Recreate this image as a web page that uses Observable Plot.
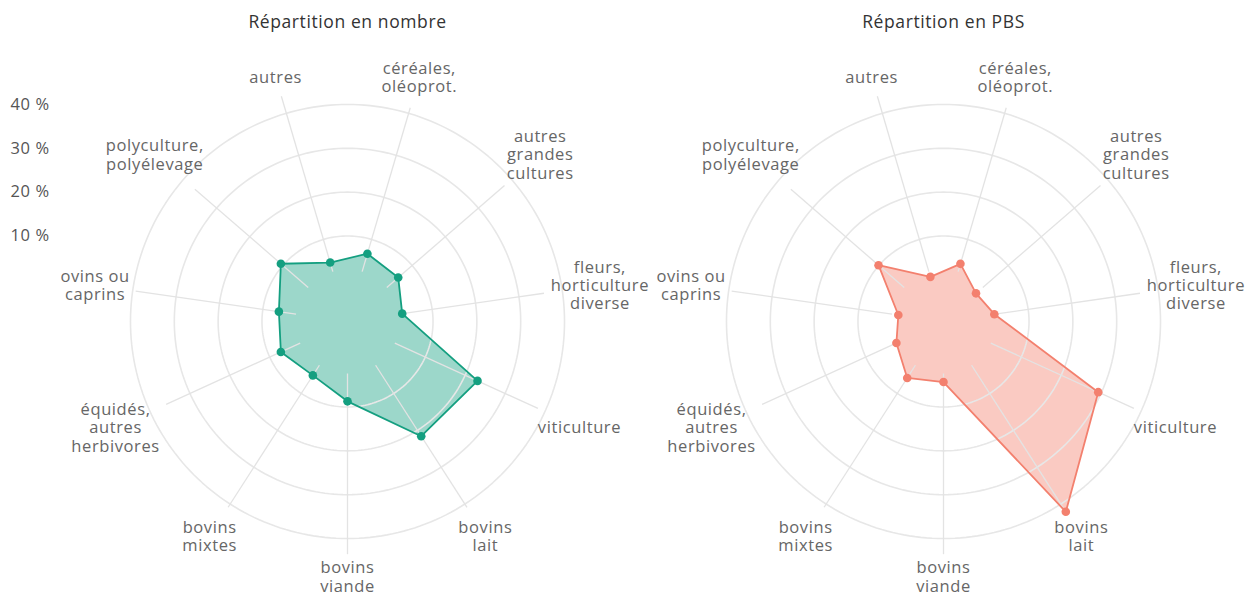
<!DOCTYPE html>
<html>
<head>
<meta charset="utf-8">
<script src="https://cdn.jsdelivr.net/npm/d3@7"></script>
<script src="https://cdn.jsdelivr.net/npm/@observablehq/plot@0.6"></script>
<style>
  html, body { margin: 0; padding: 0; background: #fff; }
</style>
</head>
<body>
<div id="chart"></div>
<script>
// ---- data ----
const categories = [
  "céréales,\noléoprot.",
  "autres\ngrandes\ncultures",
  "fleurs,\nhorticulture\ndiverse",
  "viticulture",
  "bovins\nlait",
  "bovins\nviande",
  "bovins\nmixtes",
  "équidés,\nautres\nherbivores",
  "ovins ou\ncaprins",
  "polyculture,\npolyélevage",
  "autres"
];
const nombre = [6.6, 5.8, 3.1, 23.1, 21.6, 8.7, 5.1, 7.2, 6.3, 10.6, 4.5];
const pbs    = [4.2, 0.3, 2.2, 29.3, 42.1, 4.3, 5.8, 2.3, 0.9, 10.1, 1.1];
const panelTitles = ["Répartition en nombre", "Répartition en PBS"];
const ringTicks = [10, 20, 30, 40];
const ringLabels = ["10 %", "20 %", "30 %", "40 %"];

// ---- layout ----
const W = 1256, H = 598;
const PX = 4.383;              // pixels per percentage point
const OFF = 41.7 / PX;         // inner offset of the radial axis
const CXpx = [347, 943], CYpx = 321;
const centers = CXpx.map(c => (c - CXpx[0]) / PX);
const series = [nombre, pbs];
const strokes = ["#149f80", "#f3806e"];
const FONT = "'Open Sans', sans-serif";
const FS = 16.5, LS = 0.6, LH = 18.3;

const n = categories.length;
const ang = i => (i + 0.5) * 2 * Math.PI / n;
const rad = v => OFF + v;

// polygon points
const pts = series.flatMap((vals, p) => vals.map((v, i) => ({
  panel: p, v,
  x: centers[p] + rad(v) * Math.sin(ang(i)),
  y: rad(v) * Math.cos(ang(i))
})));

// rings
const rings = [];
centers.forEach((cx, p) => ringTicks.forEach(t => {
  for (let k = 0; k < 240; k++) {
    const a = k / 240 * 2 * Math.PI;
    rings.push({id: p + "-" + t, x: cx + rad(t) * Math.sin(a), y: rad(t) * Math.cos(a)});
  }
}));

// label sizes for spoke ends
const ctx = document.createElement("canvas").getContext("2d");
ctx.font = `${FS}px ${FONT}`;
const labelR = 255 / PX;
const spokes = [], labels = [];
centers.forEach((cx, p) => categories.forEach((c, i) => {
  const lines = c.split("\n");
  const w = Math.max(...lines.map(l => ctx.measureText(l).width + LS * l.length));
  const h = lines.length * LH;
  const a = ang(i);
  const support = (w / 2) * Math.abs(Math.sin(a)) + (h / 2) * Math.abs(Math.cos(a));
  const rEnd = (255 - support - 4) / PX;
  const rStart = 52 / PX;
  spokes.push({
    x1: cx + rStart * Math.sin(a), y1: rStart * Math.cos(a),
    x2: cx + rEnd * Math.sin(a), y2: rEnd * Math.cos(a)
  });
  labels.push({text: c, x: cx + labelR * Math.sin(a), y: labelR * Math.cos(a)});
}));

const chart = Plot.plot({
  width: W, height: H,
  margin: 0,
  x: {domain: [-CXpx[0] / PX, (W - CXpx[0]) / PX], axis: null},
  y: {domain: [-(H - CYpx) / PX, CYpx / PX], axis: null},
  style: {fontFamily: FONT, letterSpacing: LS + "px", background: "#fff"},
  marks: [
    // fills
    Plot.line(pts, {x: "x", y: "y", z: "panel", curve: "linear-closed",
      fill: d => strokes[d.panel], fillOpacity: 0.42, stroke: "none"}),
    // grid
    Plot.line(rings, {x: "x", y: "y", z: "id", curve: "linear-closed",
      stroke: "#e7e7e7", strokeWidth: 1.6}),
    Plot.link(spokes, {x1: "x1", y1: "y1", x2: "x2", y2: "y2",
      stroke: "#e3e3e3", strokeWidth: 1.3}),
    // outlines
    Plot.line(pts, {x: "x", y: "y", z: "panel", curve: "linear-closed",
      stroke: d => strokes[d.panel], strokeWidth: 1.8, fill: "none"}),
    Plot.dot(pts, {x: "x", y: "y", r: 4.3, fill: d => strokes[d.panel], stroke: "none"}),
    // labels
    Plot.text(labels, {x: "x", y: "y", text: "text", fontSize: FS, fill: "#666",
      lineHeight: LH / FS, textAnchor: "middle", lineAnchor: "middle"}),
    Plot.text(ringTicks, {y: t => rad(t), text: (t, i) => ringLabels[i], frameAnchor: "left",
      dx: 10, textAnchor: "start", fontSize: FS, fill: "#555"}),
    Plot.text(panelTitles, {x: (d, i) => centers[i], frameAnchor: "top", dy: 22,
      lineAnchor: "middle", text: d => d, fontSize: 17.5, fill: "#333"})
  ]
});
chart.setAttribute("fill", "currentColor");
document.getElementById("chart").appendChild(chart);
</script>
</body>
</html>
